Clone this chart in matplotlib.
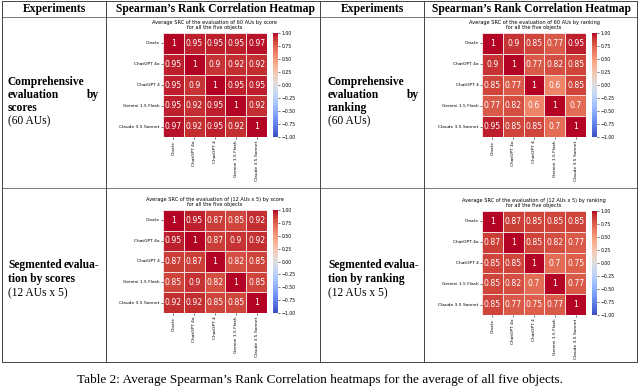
import matplotlib
matplotlib.use("Agg")
import matplotlib.pyplot as plt
import numpy as np
import seaborn as sns
from matplotlib.lines import Line2D

models = ["Oracle", "ChatGPT 4o", "ChatGPT 4", "Gemini 1.5 Flash", "Claude 3.5 Sonnet"]

score_60 = [[1, 0.95, 0.95, 0.95, 0.97],
            [0.95, 1, 0.9, 0.92, 0.92],
            [0.95, 0.9, 1, 0.95, 0.95],
            [0.95, 0.92, 0.95, 1, 0.92],
            [0.97, 0.92, 0.95, 0.92, 1]]

rank_60 = [[1, 0.9, 0.85, 0.77, 0.95],
           [0.9, 1, 0.77, 0.82, 0.85],
           [0.85, 0.77, 1, 0.6, 0.85],
           [0.77, 0.82, 0.6, 1, 0.7],
           [0.95, 0.85, 0.85, 0.7, 1]]

score_12x5 = [[1, 0.95, 0.87, 0.85, 0.92],
              [0.95, 1, 0.87, 0.9, 0.92],
              [0.87, 0.87, 1, 0.82, 0.85],
              [0.85, 0.9, 0.82, 1, 0.85],
              [0.92, 0.92, 0.85, 0.85, 1]]

rank_12x5 = [[1, 0.87, 0.85, 0.85, 0.85],
             [0.87, 1, 0.85, 0.82, 0.77],
             [0.85, 0.85, 1, 0.7, 0.75],
             [0.85, 0.82, 0.7, 1, 0.77],
             [0.85, 0.77, 0.75, 0.77, 1]]

titles = ["Average SRC of the evaluation of 60 AUs by score\nfor all the five objects",
          "Average SRC of the evaluation of 60 AUs by ranking\nfor all the five objects",
          "Average SRC of the evaluation of (12 AUs x 5) by score\nfor all the five objects",
          "Average SRC of the evaluation of (12 AUs x 5) by ranking\nfor all the five objects"]

W, H = 640, 387
fig = plt.figure(figsize=(6.4, 3.87), dpi=100)


def fx(x):
    return x / W


def fy(y):
    return 1 - y / H


def box(x0, y0, x1, y1):
    # pixel box -> add_axes rect
    return [fx(x0), fy(y1), (x1 - x0) / W, (y1 - y0) / H]


# table lines
lc = "#444444"
for x in [2, 106, 320, 424, 637]:
    fig.add_artist(Line2D([fx(x), fx(x)], [fy(1), fy(362)], color=lc, lw=0.7))
for y in [1, 362]:
    fig.add_artist(Line2D([fx(2), fx(637)], [fy(y), fy(y)], color=lc, lw=0.7))
for y in [17, 188]:
    fig.add_artist(Line2D([fx(2), fx(637)], [fy(y), fy(y)], color=lc, lw=0.5))

serif = "Liberation Serif"
for cx, s in [(54, "Experiments"), (215, "Spearman’s Rank Correlation Heatmap"),
              (372, "Experiments"), (531, "Spearman’s Rank Correlation Heatmap")]:
    fig.text(fx(cx), fy(9), s, ha="center", va="center", family=serif,
             fontweight="bold", fontsize=8.4)


def put(x, y, s, ha="left", bold=True):
    fig.text(fx(x), fy(y), s, ha=ha, va="center", family=serif, fontsize=8.3,
             fontweight="bold" if bold else "normal")


for left, right, word in [(8, 99, "scores"), (328, 419, "ranking")]:
    put(left, 82, "Comprehensive")
    put(left, 95, "evaluation")
    put(right, 95, "by", ha="right")
    put(left, 108, word)
    put(left, 121, "(60 AUs)", bold=False)

    put(left, 265, "Segmented")
    put(right, 265, "evalua-", ha="right")
    put(left, 279, "tion by " + word)
    put(left, 293, "(12 AUs x 5)", bold=False)

fig.text(0.5, fy(380), "Table 2: Average Spearman’s Rank Correlation heatmaps for the average of all five objects.",
         ha="center", va="center", family=serif, fontsize=9.5)

# heatmaps
mats = [score_60, rank_60, score_12x5, rank_12x5]
boxes = [(163, 33, 267, 137), (482, 33, 586, 137), (163, 210, 267, 313), (482, 211, 586, 315)]

for mat, b, title in zip(mats, boxes, titles):
    x0, y0, x1, y1 = b
    ax = fig.add_axes(box(x0, y0, x1, y1))
    cax = fig.add_axes(box(x1 + 6, y0, x1 + 11, y1))
    sns.heatmap(np.array(mat), ax=ax, cbar_ax=cax, cmap="coolwarm", vmin=-1, vmax=1,
                annot=True, annot_kws={"fontsize": 5.6}, linewidths=0.4, linecolor="#f4dada",
                xticklabels=models, yticklabels=models)
    ax.set_title(title, fontsize=3.6, pad=3, linespacing=1.0)
    ax.tick_params(labelsize=3.2, length=1.5, width=0.4, pad=1)
    ax.set_xticklabels(models, rotation=90)
    ax.set_yticklabels(models, rotation=0)
    cax.tick_params(labelsize=3.3, length=1.5, width=0.4, pad=1)
    cax.set_yticks(np.arange(-1, 1.01, 0.25))
    cax.set_yticklabels([f"{v:.2f}".replace("-", "\u2212") for v in np.arange(-1, 1.01, 0.25)])
    for s in cax.spines.values():
        s.set_visible(False)

fig.savefig("out.png", dpi=100)
